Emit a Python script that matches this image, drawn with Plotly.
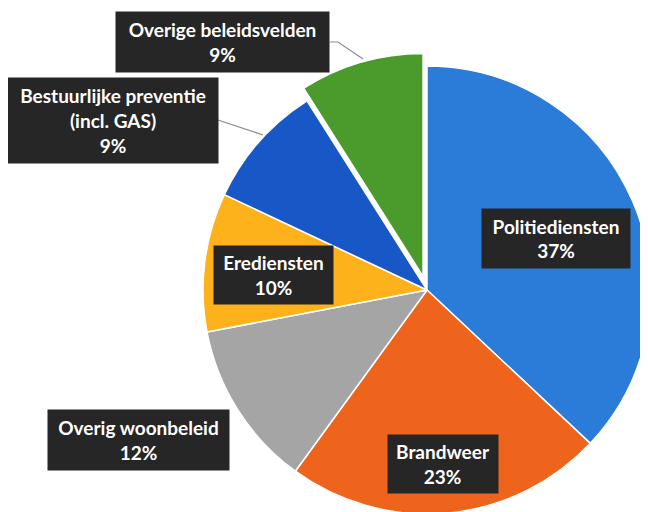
import math
import plotly.graph_objects as go

categories = [
    "Politiediensten",
    "Brandweer",
    "Overig woonbeleid",
    "Erediensten",
    "Bestuurlijke preventie<br>(incl. GAS)",
    "Overige beleidsvelden",
]
shares = [37, 23, 12, 10, 9, 9]
colors = ["#2B7CD9", "#EE641C", "#A5A5A5", "#FDB11A", "#1858C6", "#4A9A2C"]

# page is drawn with the browser's 8px body margin, so work in page pixels;
# the pie runs a little past the right/bottom edge of the window, like the original
OFF = 8
W, H = 664, 512
cx, cy, r = 427 - OFF, 290 - OFF, 224  # pixels, cy from top
pulled = 5  # index of the slice that sticks out
pull_px = 13.3

# pull direction for the pulled slice (clockwise from 12 o'clock)
total = sum(shares)
start = sum(shares[:pulled]) / total * 360
mid = math.radians(start + shares[pulled] / total * 180)
dx = pull_px * math.sin(mid)
dy = pull_px * math.cos(mid)


def domain(ox, oy):
    return dict(
        x=[max((cx - r + ox) / W, 0), min((cx + r + ox) / W, 1)],
        y=[max((H - cy - r + oy) / H, 0), min((H - cy + r + oy) / H, 1)],
    )


fig = go.Figure()

base_colors = [c if i != pulled else "rgba(0,0,0,0)" for i, c in enumerate(colors)]
base_lines = ["white" if i != pulled else "rgba(0,0,0,0)" for i in range(len(colors))]
fig.add_trace(
    go.Pie(
        labels=categories,
        values=shares,
        sort=False,
        direction="clockwise",
        rotation=0,
        marker=dict(colors=base_colors, line=dict(color=base_lines, width=1.5)),
        textinfo="none",
        domain=domain(0, 0),
        showlegend=False,
    )
)

top_colors = [c if i == pulled else "rgba(0,0,0,0)" for i, c in enumerate(colors)]
top_lines = ["white" if i == pulled else "rgba(0,0,0,0)" for i in range(len(colors))]
fig.add_trace(
    go.Pie(
        labels=categories,
        values=shares,
        sort=False,
        direction="clockwise",
        rotation=0,
        marker=dict(colors=top_colors, line=dict(color=top_lines, width=2)),
        textinfo="none",
        domain=domain(dx, dy),
        showlegend=False,
    )
)

# label boxes: centre x, centre y, width, height in page pixels
label_box = [
    (556, 238, 148, 59),
    (443, 464, 110, 58),
    (138, 440, 181, 60),
    (273, 275, 119, 58),
    (113, 120, 210, 85),
    (223, 42, 213, 60),
]
for name, val, (px, py, bw, bh) in zip(categories, shares, label_box):
    fig.add_annotation(
        x=(px - OFF) / W,
        y=1 - (py - OFF) / H,
        xref="paper",
        yref="paper",
        xanchor="center",
        yanchor="middle",
        width=bw,
        height=bh,
        text=f"{name}<br>{val}%",
        showarrow=False,
        align="center",
        valign="middle",
        bgcolor="#262626",
        borderpad=0,
        font=dict(family="Lato, sans-serif", size=19, color="white", weight="bold"),
    )

# leader lines
leaders = [
    [(330, 42), (338, 42), (363, 59)],
    [(218, 120), (263, 135)],
]
for pts in leaders:
    path = "M " + " L ".join(f"{(x - OFF) / W},{1 - (y - OFF) / H}" for x, y in pts)
    fig.add_shape(
        type="path", path=path, xref="paper", yref="paper",
        line=dict(color="#8C8C8C", width=1.2),
    )

fig.update_layout(
    width=W,
    height=H,
    margin=dict(l=0, r=0, t=0, b=0),
    paper_bgcolor="white",
    plot_bgcolor="white",
)

fig.write_html("out.html")
